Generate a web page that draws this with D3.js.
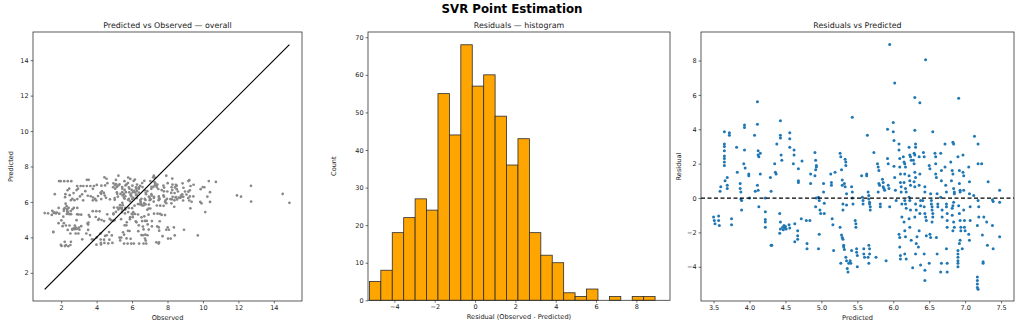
<!DOCTYPE html>
<html><head><meta charset="utf-8">
<script src="https://cdn.jsdelivr.net/npm/d3@7"></script>
<style>
body{margin:0;background:#fff;}
svg{display:block;font-family:"DejaVu Sans",sans-serif;}
</style></head>
<body><div id="chart"></div>
<script>
// ---- data ----
const suptitle = "SVR Point Estimation";
const panelTitles = ["Predicted vs Observed — overall", "Residuals — histogram", "Residuals vs Predicted"];
// paired samples (Predicted, Residual = Observed - Predicted)
const predicted = [
3.50,3.51,3.52,3.57,3.57,3.58,3.59,3.60,3.65,3.65,3.65,3.65,3.65,3.65,3.65,3.65,3.66,
3.69,3.69,3.69,3.72,3.72,3.75,3.75,3.82,3.83,3.87,3.87,3.88,3.88,3.89,3.89,
3.93,3.93,3.93,3.92,3.94,3.99,3.99,4.00,4.07,4.08,
4.11,4.11,4.12,4.12,4.13,4.11,4.12,4.13,4.15,4.15,4.22,4.22,4.22,4.22,4.22,
4.29,4.30,4.30,4.31,4.35,4.36,4.37,4.38,
4.43,4.43,4.43,4.44,4.45,4.42,4.43,4.43,4.42,4.46,4.47,4.49,4.50,4.48,4.51,
4.56,4.56,4.56,4.55,4.56,4.62,4.62,4.61,4.63,4.63,4.68,4.68,4.68,4.67,4.67,4.67,
4.73,4.72,4.79,4.80,4.80,4.85,4.85,4.84,
4.91,4.92,4.93,4.93,4.92,4.91,4.93,4.92,4.96,4.97,4.98,4.99,4.97,4.96,
5.03,5.03,5.04,5.04,5.13,5.14,5.14,5.15,5.16,5.17,5.19,
5.26,5.27,5.28,5.29,5.29,5.30,5.30,5.26,5.28,5.29,5.30,5.31,5.31,5.32,5.27,
5.33,5.34,5.34,5.32,5.33,5.35,5.35,5.34,5.35,5.36,5.37,5.38,
5.43,5.42,5.43,5.43,5.44,5.42,5.41,5.40,
5.47,5.48,5.48,5.49,5.49,5.50,5.50,
5.56,5.57,5.58,5.58,5.59,5.59,5.60,
5.64,5.63,5.63,5.65,5.66,5.66,5.67,5.67,5.68,5.68,5.66,5.67,5.67,5.65,5.66,
5.73,5.76,5.78,5.79,5.80,5.80,5.81,5.79,5.82,5.82,
5.85,5.86,5.86,5.87,5.88,
5.92,5.92,5.93,5.93,5.94,5.95,5.90,5.95,
6.00,6.00,6.01,6.01,6.02,6.03,6.04,6.02,
6.08,6.08,6.09,6.09,6.10,6.10,6.11,6.11,6.12,6.12,6.08,6.09,6.09,6.10,6.10,
6.15,6.16,6.14,6.17,6.16,6.15,6.17,6.18,6.16,6.17,6.18,6.15,6.16,6.17,6.16,6.18,
6.22,6.23,6.24,6.25,6.22,6.23,6.24,6.22,6.23,6.24,6.22,6.23,6.25,
6.30,6.30,6.31,6.31,6.29,6.30,6.28,6.29,6.30,6.31,6.29,6.30,6.31,6.32,6.30,6.33,6.32,6.31,6.27,
6.37,6.36,6.37,6.36,6.38,6.38,6.37,6.36,6.35,6.38,
6.45,6.42,6.43,6.44,6.44,6.43,6.44,6.45,6.46,6.46,6.43,6.44,6.44,6.41,
6.55,6.50,6.51,6.52,6.53,6.53,6.54,6.54,6.55,6.55,6.54,6.51,6.52,6.50,
6.58,6.59,6.59,6.59,6.60,6.61,6.62,6.62,6.60,6.61,
6.66,6.67,6.67,6.66,6.68,6.68,6.67,6.66,
6.72,6.72,6.73,6.74,6.74,6.74,6.75,6.75,6.75,6.74,6.75,6.75,
6.83,6.84,6.80,6.82,6.83,6.81,6.84,6.85,6.85,6.84,6.83,6.82,6.82,6.84,6.85,6.83,6.90,6.90,6.90,6.90,6.90,6.90,
6.91,6.90,6.92,6.92,6.93,6.93,6.91,6.92,6.93,6.94,6.94,6.93,6.92,
6.97,6.97,6.98,6.98,6.98,6.99,6.99,7.00,6.96,
7.05,7.06,7.06,7.07,7.07,7.05,7.06,7.13,7.12,
7.18,7.18,7.18,7.19,7.19,7.17,7.17,7.17,7.17,7.17,7.18,
7.23,7.24,7.25,7.25,7.26,7.32,7.30,7.31,7.38,7.39,7.38,7.39,7.48,7.48,7.48
];
const residual = [
-1.1,-1.3,-1.5,-1.05,-1.3,-1.6,0.4,0.65,3.85,3.15,3.0,2.75,2.45,2.3,2.1,1.9,1.0,
1.2,0.75,0.55,3.8,3.65,-1.2,-1.55,2.95,1.5,0.85,0.55,0.35,-0.05,-0.15,-0.7,
4.25,4.1,2.8,2.0,1.75,1.4,1.3,0.0,3.65,0.4,
5.6,4.3,2.75,2.5,2.4,0.75,0.45,-0.5,2.6,1.4,0.0,-0.8,-1.25,-1.4,-1.7,
1.2,0.4,-2.75,-2.75,2.0,1.5,1.4,3.15,
4.5,3.65,3.5,2.5,2.2,-0.9,-1.4,-1.8,-2.05,-1.7,-1.85,-1.75,-1.65,-1.6,-1.8,
3.8,3.45,2.95,-1.55,-1.75,2.8,2.5,2.0,-1.5,-2.55,1.7,1.0,0.9,-1.9,-2.2,-2.4,
2.15,-1.2,-1.3,-2.65,-2.95,1.4,0.85,-1.3,
2.65,2.2,1.9,1.8,1.65,1.3,0.0,-0.5,0.05,-0.15,-0.7,-0.9,-2.1,-2.95,
0.85,0.35,-0.3,-0.9,1.4,0.9,0.75,-1.2,-1.55,-3.05,1.5,
2.6,2.4,1.65,1.05,0.75,-0.35,-0.7,-1.7,-2.15,-2.3,-2.4,-2.75,-2.85,-3.0,-3.8,
2.25,2.1,1.9,0.85,0.65,0.25,-0.4,-3.45,-3.65,-4.1,-4.3,-3.8,
4.7,0.65,0.35,0.0,-0.35,-3.05,-3.8,-3.65,
-1.3,-1.5,-1.7,-2.95,-3.15,-3.35,-4.0,
1.3,0.05,-0.15,-0.35,-2.95,-3.25,-3.45,
3.65,1.4,1.3,0.35,0.15,-0.05,-0.25,-0.35,-0.5,-0.7,-2.75,-2.95,-3.25,-3.45,-3.8,
2.65,-3.45,2.0,1.8,1.6,0.85,0.75,0.35,-0.35,-0.5,
1.1,0.9,0.65,0.55,0.45,
4.0,2.3,2.0,0.75,0.55,-0.5,-3.65,8.93,
4.4,3.85,3.35,1.85,1.2,0.45,-0.15,6.7,
3.15,2.8,2.3,1.8,1.4,0.9,0.65,0.35,-0.35,-1.1,-2.1,-2.3,-2.85,-3.35,-3.55,
2.1,2.0,2.4,1.8,1.4,0.9,0.55,0.35,-0.15,-0.35,-0.6,-1.4,-1.9,-2.25,-3.25,-3.55,
2.95,2.5,2.4,2.2,1.3,1.0,0.75,0.05,-0.15,-0.7,-1.2,-1.7,-2.45,
5.85,3.95,3.15,2.95,2.6,2.5,2.2,2.0,1.5,1.2,0.95,0.65,-0.35,-0.7,-1.1,-2.25,-2.65,-3.25,-4.05,
5.55,2.4,1.4,0.75,-0.15,-0.45,-0.9,-1.9,-2.85,-3.9,
8.05,2.65,2.4,0.65,0.35,-0.5,-0.9,-1.1,-1.3,-2.2,-3.25,-4.2,-4.8,-0.15,
3.85,1.9,1.7,0.25,-0.15,-0.35,-0.5,-0.7,-0.9,-1.1,-1.4,-2.1,-2.3,-3.8,
2.6,2.4,2.0,1.4,1.2,0.25,-0.35,-0.5,-2.3,-3.25,
2.6,1.6,1.0,0.05,-0.7,-1.1,-3.8,-4.3,
3.15,1.8,0.75,0.35,-0.35,-0.5,-0.9,-1.3,-1.7,-2.95,-3.8,-4.3,
3.25,3.15,2.1,1.6,1.4,1.0,0.55,0.35,0.25,-0.25,-0.45,-0.6,-1.0,-1.4,-1.7,-1.9,-3.05,-3.25,-3.45,-3.65,-3.8,-4.0,
5.8,2.4,1.6,0.85,0.45,0.35,-0.45,-0.9,-1.3,-1.7,-1.9,-2.45,-2.65,
2.5,1.5,1.3,0.45,-0.7,-1.3,-1.7,-1.9,-2.95,
1.8,0.95,0.25,-0.5,-1.3,-2.1,-2.45,3.6,0.15,
3.15,2.0,-0.15,-0.5,-1.1,-1.6,-4.6,-4.8,-5.0,-5.2,-5.3,
2.0,-2.15,-3.7,-3.8,-1.1,0.95,-1.4,-2.75,-0.1,-0.2,-1.6,-2.95,0.45,-0.25,-2.25
];
// histogram of residuals: 25 equal bins between the residual extremes
const histCounts = [5,8,18,22,27,24,55,44,68,57,60,49,36,43,18,12,10,2,1,3,0,1,0,1,1];
const histRange = [-5.24, 8.93];
// ticks
const p1Ticks = [2,4,6,8,10,12,14];
const histXTicks = [-4,-2,0,2,4,6,8];
const histYTicks = [0,10,20,30,40,50,60,70];
const p3XTicks = [3.5,4.0,4.5,5.0,5.5,6.0,6.5,7.0,7.5];
const p3YTicks = [-4,-2,0,2,4,6,8];

// ---- drawing ----
const W = 1025, H = 329;
const svg = d3.select("#chart").append("svg").attr("width", W).attr("height", H);
const TICK_FS = 6.5, LAB_FS = 6.6, TITLE_FS = 7.9;
const spine = "#333";

const pts = predicted.map((p, i) => ({pred: p, res: residual[i], obs: p + residual[i]}));

svg.append("text").attr("x", 512).attr("y", 12.5).attr("text-anchor", "middle")
  .attr("font-size", 11.8).attr("font-weight", "bold").attr("fill", "#000").text(suptitle);

function frame(box, x, y, xt, yt, xfmt, yfmt, title, xlabel, ylabel, ylabX) {
  const g = svg.append("g");
  const xa = g.append("g").attr("transform", `translate(0,${box.b})`)
    .call(d3.axisBottom(x).tickValues(xt).tickFormat(xfmt).tickSize(2.4).tickPadding(2));
  const ya = g.append("g").attr("transform", `translate(${box.l},0)`)
    .call(d3.axisLeft(y).tickValues(yt).tickFormat(yfmt).tickSize(2.4).tickPadding(2));
  [xa, ya].forEach(a => {
    a.select(".domain").remove();
    a.selectAll("line").attr("stroke", spine).attr("stroke-width", 0.7);
    a.selectAll("text").attr("font-size", TICK_FS).attr("fill", "#222").attr("font-family", "DejaVu Sans");
  });
  g.append("text").attr("x", (box.l + box.r) / 2).attr("y", box.t - 4.5).attr("text-anchor", "middle")
    .attr("font-size", TITLE_FS).attr("fill", "#222").text(title);
  g.append("text").attr("x", (box.l + box.r) / 2).attr("y", box.b + 18.5).attr("text-anchor", "middle")
    .attr("font-size", LAB_FS).attr("fill", "#222").text(xlabel);
  g.append("text").attr("transform", `translate(${ylabX},${(box.t + box.b) / 2}) rotate(-90)`)
    .attr("text-anchor", "middle").attr("font-size", LAB_FS).attr("fill", "#222").text(ylabel);
  return g;
}
function border(box) {
  svg.append("rect").attr("x", box.l).attr("y", box.t).attr("width", box.r - box.l).attr("height", box.b - box.t)
    .attr("fill", "none").attr("stroke", spine).attr("stroke-width", 0.8);
}

// Panel 1
const b1 = {l: 33, r: 302, t: 32, b: 301};
const obsExt = d3.extent(pts, d => d.obs);
const x1 = d3.scaleLinear().domain([0.41, 15.59]).range([b1.l, b1.r]);
const y1 = d3.scaleLinear().domain([0.41, 15.59]).range([b1.b, b1.t]);
frame(b1, x1, y1, p1Ticks, p1Ticks, d3.format("d"), d3.format("d"),
  panelTitles[0], "Observed", "Predicted", 13);
svg.append("g").selectAll("circle").data(pts).join("circle")
  .attr("cx", d => x1(d.obs)).attr("cy", d => y1(d.pred)).attr("r", 1.35).attr("fill", "#888888");
svg.append("line").attr("x1", x1(obsExt[0])).attr("y1", y1(obsExt[0]))
  .attr("x2", x1(obsExt[1])).attr("y2", y1(obsExt[1])).attr("stroke", "#000").attr("stroke-width", 1.2);
border(b1);

// Panel 2
const b2 = {l: 368, r: 670, t: 32, b: 300.3};
const x2 = d3.scaleLinear().domain([-5.31, 9.67]).range([b2.l, b2.r]);
const y2 = d3.scaleLinear().domain([0, 71.4]).range([b2.b, b2.t]);
frame(b2, x2, y2, histXTicks, histYTicks, d3.format("d"), d3.format("d"),
  panelTitles[1], "Residual (Observed - Predicted)", "Count", 336);
const bw = (histRange[1] - histRange[0]) / histCounts.length;
const bins = histCounts.map((c, i) => ({x0: histRange[0] + i * bw, x1: histRange[0] + (i + 1) * bw, c}));
svg.append("g").selectAll("rect").data(bins.filter(d => d.c > 0)).join("rect")
  .attr("x", d => x2(d.x0)).attr("width", d => x2(d.x1) - x2(d.x0))
  .attr("y", d => y2(d.c)).attr("height", d => y2(0) - y2(d.c))
  .attr("fill", "#FFA500").attr("stroke", "#2b2b2b").attr("stroke-width", 0.8);
border(b2);

// Panel 3
const b3 = {l: 701, r: 1014, t: 32, b: 301};
const x3 = d3.scaleLinear().domain([3.325, 7.68]).range([b3.l, b3.r]);
const y3 = d3.scaleLinear().domain([-5.99, 9.66]).range([b3.b, b3.t]);
frame(b3, x3, y3, p3XTicks, p3YTicks, d3.format(".1f"), d3.format("d"),
  panelTitles[2], "Predicted", "Residual", 681);
svg.append("g").selectAll("circle").data(pts).join("circle")
  .attr("cx", d => x3(d.pred)).attr("cy", d => y3(d.res)).attr("r", 1.5).attr("fill", "#1f77b4");
svg.append("line").attr("x1", b3.l).attr("x2", b3.r).attr("y1", y3(0)).attr("y2", y3(0))
  .attr("stroke", "#000").attr("stroke-width", 1.2).attr("stroke-dasharray", "4,2.5");
border(b3);
</script></body></html>
